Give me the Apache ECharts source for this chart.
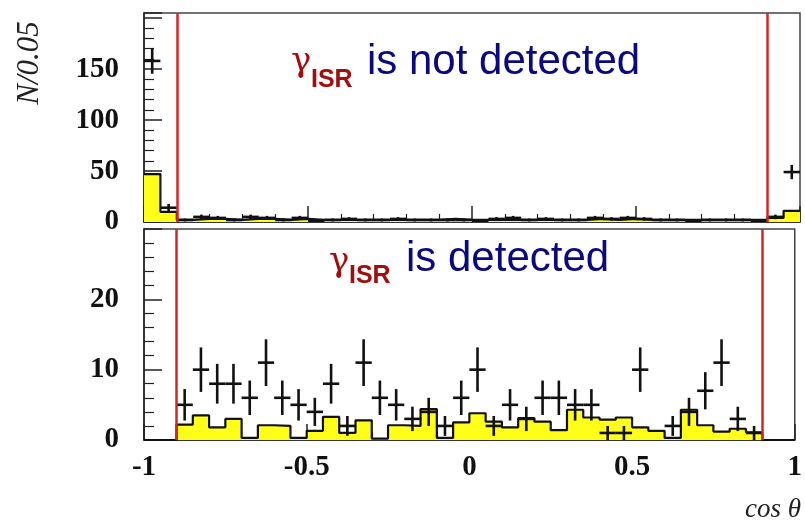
<!DOCTYPE html>
<html>
<head>
<meta charset="utf-8">
<script src="https://cdn.jsdelivr.net/npm/echarts@6/dist/echarts.min.js"></script>
<style>
  html, body { margin: 0; padding: 0; background: #fff; overflow: hidden; }
  #chart { width: 805px; height: 523px; }
</style>
</head>
<body>
<div id="chart"></div>
<script>
// cos(theta) histogram, 40 bins of 0.05 from -1 to 1
const binWidth = 0.05;
const binLow = -1;

// top panel: gamma_ISR not detected
const dataTop = [158, 14,
  2, 5, 4, 2, 5, 4, 2, 4, 1, 2, 3, 2, 2, 3, 2, 2, 2, 2,
  1, 3, 4, 2, 3, 2, 2, 4, 3, 4, 3, 2, 2, 1, 2, 2, 2, 1,
  5, 49];
const mcTop = [47, 10,
  2, 3, 3, 2, 3, 3, 2, 3, 2, 2, 2, 2, 2, 2, 2, 2, 3, 2,
  2, 2, 2, 2, 2, 2, 2, 3, 2, 3, 2, 2, 2, 2, 2, 2, 2, 2,
  4, 11];

// bottom panel: gamma_ISR detected
const dataBottom = [0, 0,
  5, 10, 8, 8, 6, 11, 6, 5, 4, 8, 2, 11, 6, 5, 3, 4, 2, 6,
  10, 2, 5, 3, 6, 6, 5, 5, 1, 1, 10, 0, 2, 4, 7, 11, 3, 1,
  0, 0];
const mcBottom = [0, 0,
  2.2, 3.5, 1.8, 3, 0.3, 2.1, 2, 0.3, 1.3, 3.3, 1, 2.8, 0.2, 2.1, 2, 4.4, 0.3, 2.5,
  3.8, 2.6, 1.8, 3.1, 2.6, 1.4, 4.3, 3.2, 2.9, 3.2, 1.8, 1.3, 0.3, 4.3, 2.1, 1.2, 1.6, 1.1,
  0, 0];

const cuts = [-0.9, 0.9];

function stepData(vals) {
  const out = vals.map((v, i) => [binLow + i * binWidth, v]);
  out.push([binLow + vals.length * binWidth, vals[vals.length - 1]]);
  return out;
}
function pointData(vals) {
  return vals.map((v, i) => [binLow + (i + 0.5) * binWidth, v]);
}

function renderCross(params, api) {
  const x = api.value(0), v = api.value(1);
  if (!(v > 0)) return;
  const e = Math.sqrt(v);
  const pL = api.coord([x - binWidth / 2, v]);
  const pR = api.coord([x + binWidth / 2, v]);
  const pT = api.coord([x, v + e]);
  const pB = api.coord([x, Math.max(v - e, 0)]);
  const st = { stroke: '#111', lineWidth: 2.6 };
  return {
    type: 'group',
    children: [
      { type: 'line', shape: { x1: pL[0], y1: pL[1], x2: pR[0], y2: pR[1] }, style: st },
      { type: 'line', shape: { x1: pT[0], y1: pT[1], x2: pB[0], y2: pB[1] }, style: st }
    ]
  };
}

const labelFont = { fontFamily: 'Liberation Serif', fontWeight: 'bold', fontSize: 29, color: '#111' };

function xAx(grid, showLabels) {
  return {
    gridIndex: grid, type: 'value', min: -1, max: 1, interval: 0.5,
    axisLine: { show: true, onZero: false, lineStyle: { color: '#222', width: 1.5 } },
    axisTick: { show: true, inside: true, length: 16, lineStyle: { color: '#222', width: 1.5 } },
    minorTick: { show: true, splitNumber: 5, length: 8, lineStyle: { color: '#222', width: 1.2 } },
    splitLine: { show: false },
    axisLabel: Object.assign({ show: showLabels, margin: 13, showMinLabel: true, showMaxLabel: true }, labelFont)
  };
}
function yAx(grid, max, interval, maxLabel) {
  return {
    gridIndex: grid, type: 'value', min: 0, max: max, interval: interval,
    axisLine: { show: true, onZero: false, lineStyle: { color: '#222', width: 1.5 } },
    axisTick: { show: true, inside: true, length: 18, lineStyle: { color: '#222', width: 1.5 } },
    minorTick: { show: true, splitNumber: 5, length: 10, lineStyle: { color: '#222', width: 1.2 } },
    splitLine: { show: false },
    axisLabel: Object.assign({ margin: 25, formatter: v => (v <= maxLabel ? String(v) : '') }, labelFont)
  };
}

function mcSeries(grid, vals) {
  return {
    type: 'line', xAxisIndex: grid, yAxisIndex: grid, step: 'end',
    data: stepData(vals), symbol: 'none', silent: true,
    lineStyle: { color: '#111', width: 2.2 },
    areaStyle: { color: '#ffff1a', opacity: 1 },
    markLine: {
      silent: true, symbol: 'none', label: { show: false },
      lineStyle: { color: '#d42626', width: 2.5, type: 'solid' },
      data: cuts.map(c => ({ xAxis: c }))
    },
    z: 2
  };
}
function dataSeries(grid, vals) {
  return {
    type: 'custom', xAxisIndex: grid, yAxisIndex: grid,
    data: pointData(vals), renderItem: renderCross, clip: true, z: 3
  };
}

const chart = echarts.init(document.getElementById('chart'));
chart.setOption({
  animation: false,
  backgroundColor: '#fff',
  grid: [
    { left: 144, right: 5, top: 13, height: 209, show: true, borderColor: '#444', borderWidth: 1.5 },
    { left: 144, right: 5, top: 229, height: 211, show: true, borderColor: '#444', borderWidth: 1.5 }
  ],
  xAxis: [xAx(0, false), xAx(1, true)],
  yAxis: [yAx(0, 205, 50, 150), yAx(1, 30, 10, 20)],
  series: [
    mcSeries(0, mcTop), dataSeries(0, dataTop),
    mcSeries(1, mcBottom), dataSeries(1, dataBottom)
  ],
  graphic: [
    { type: 'text', x: 30, y: 63, rotation: Math.PI / 2,
      style: { text: 'N/0.05', font: 'italic 31px "Liberation Serif"', fill: '#222', align: 'center', verticalAlign: 'middle' } },
    { type: 'text', x: 801, y: 510,
      style: { text: 'cos θ', font: 'italic 27px "Liberation Serif"', fill: '#222', align: 'right', verticalAlign: 'middle' } },
    // top panel title
    { type: 'text', x: 291, y: 62,
      style: { text: 'γ', font: '34px "DejaVu Serif"', fill: '#a30d0d', align: 'left', verticalAlign: 'middle' } },
    { type: 'text', x: 311, y: 80,
      style: { text: 'ISR', font: 'bold 25px "Liberation Sans"', fill: '#a30d0d', align: 'left', verticalAlign: 'middle' } },
    { type: 'text', x: 367, y: 62,
      style: { text: 'is not detected', font: '42px "Liberation Sans"', fill: '#0a0a80', align: 'left', verticalAlign: 'middle' } },
    // bottom panel title
    { type: 'text', x: 329, y: 262,
      style: { text: 'γ', font: '34px "DejaVu Serif"', fill: '#a30d0d', align: 'left', verticalAlign: 'middle' } },
    { type: 'text', x: 349, y: 276,
      style: { text: 'ISR', font: 'bold 25px "Liberation Sans"', fill: '#a30d0d', align: 'left', verticalAlign: 'middle' } },
    { type: 'text', x: 406, y: 259,
      style: { text: 'is detected', font: '42px "Liberation Sans"', fill: '#0a0a80', align: 'left', verticalAlign: 'middle' } }
  ]
});
</script>
</body>
</html>
